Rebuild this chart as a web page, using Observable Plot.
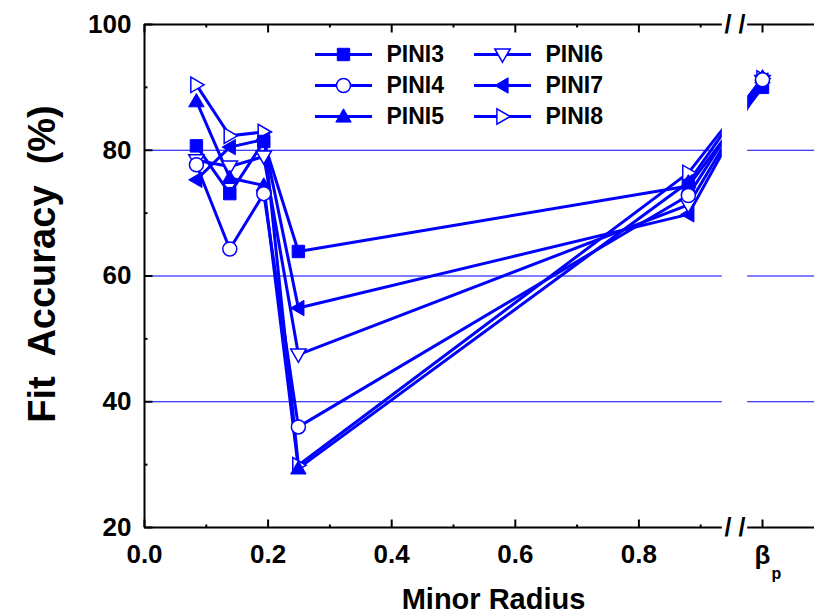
<!DOCTYPE html>
<html>
<head>
<meta charset="utf-8">
<script src="https://cdn.jsdelivr.net/npm/d3@7"></script>
<script src="https://cdn.jsdelivr.net/npm/@observablehq/plot@0.6"></script>
<style>
  html, body { margin: 0; padding: 0; background: #fff; }
  svg text { white-space: pre; }
</style>
</head>
<body>
<div id="chart"></div>
<script>
// ---------------- data ----------------
const seriesNames = ["PINI3", "PINI4", "PINI5", "PINI6", "PINI7", "PINI8"];
const minorRadius = [0.084, 0.138, 0.193, 0.249, 0.88];   // x positions (minor radius)
// last value of each series is the beta_p column
const pini3 = [80.7, 73.1, 81.4, 63.9, 74.3, 90.0];
const pini4 = [77.7, 64.3, 73.1, 36.0, 72.8, 91.2];
const pini5 = [87.8, 75.6, 74.4, 29.4, 74.9, 91.6];
const pini6 = [78.4, 77.4, 79.0, 47.5, 71.3, 91.0];
const pini7 = [75.3, 80.5, 81.7, 54.9, 69.8, 91.1];
const pini8 = [90.4, 82.3, 82.9, 29.9, 76.4, 91.4];
const xTickLabels = ["0.0", "0.2", "0.4", "0.6", "0.8"];
const xMajorTicks = [0, 0.2, 0.4, 0.6, 0.8];
const xMinorTicks = [0.1, 0.3, 0.5, 0.7, 0.9];
const yMajorTicks = [20, 40, 60, 80, 100];
const yMinorTicks = [30, 50, 70, 90];
const gridValues = [40, 60, 80];
const betaLabel = "β";
const betaSub = "p";

// ---------------- layout / scale config ----------------
const BETA_P_POS = 1.0;            // where the beta_p column sits on the x scale
const BREAK_L = 0.935, BREAK_R = 0.976;
const X_MAX = 670 / 618;
const BLUE = "#0000ff";
const FONT = "'Liberation Sans', Arial, Helvetica, sans-serif";

const seriesValues = [pini3, pini4, pini5, pini6, pini7, pini8];
const xPositions = [...minorRadius, BETA_P_POS];
const tidy = seriesNames.flatMap((s, i) =>
  seriesValues[i].map((v, j) => ({series: s, x: xPositions[j], y: v})));

// custom symbols
const poly = (pts) => ({
  draw(ctx, size) {
    const t = Math.sqrt(size / Math.PI);
    ctx.moveTo(pts[0][0] * t, pts[0][1] * t);
    for (let k = 1; k < pts.length; ++k) ctx.lineTo(pts[k][0] * t, pts[k][1] * t);
    ctx.closePath();
  }
});
const triUp = poly([[0, -1.1], [1.1, 0.8], [-1.1, 0.8]]);
const triDown = poly([[0, 1.1], [1.1, -0.8], [-1.1, -0.8]]);
const triLeft = poly([[-1.1, 0], [0.8, -1.1], [0.8, 1.1]]);
const triRight = poly([[1.1, 0], [-0.8, -1.1], [-0.8, 1.1]]);
const seg = (dx, dy) => ({draw(ctx) { ctx.moveTo(0, 0); ctx.lineTo(dx, dy); }});
const legendLine = {draw(ctx) { ctx.moveTo(-28.5, 0); ctx.lineTo(28.5, 0); }};

const symbols = ["square", "circle", triUp, triDown, triLeft, triRight];
const filled = [true, false, true, false, true, false];

// draw order of markers (later on top)
const markerOrder = [5, 4, 3, 2, 0, 1];

const seriesDots = markerOrder.map(i => Plot.dot(tidy.filter(d => d.series === seriesNames[i]), {
  x: "x", y: "y", r: 7, symbol: symbols[i],
  fill: filled[i] ? BLUE : "white", stroke: BLUE, strokeWidth: filled[i] ? 1 : 1.5
}));

const legendMarks = seriesNames.flatMap((name, i) => {
  const col = Math.floor(i / 3), row = i % 3;
  const lx = 199 + col * 159, ly = 30 + row * 31;
  return [
    Plot.dot([name], {frameAnchor: "top-left", dx: lx, dy: ly, symbol: legendLine, stroke: BLUE, strokeWidth: 3, fill: "none"}),
    Plot.dot([name], {frameAnchor: "top-left", dx: lx, dy: ly, r: 7, symbol: symbols[i],
      fill: filled[i] ? BLUE : "white", stroke: BLUE, strokeWidth: filled[i] ? 1 : 1.5}),
    Plot.text([name], {frameAnchor: "top-left", dx: lx + 43, dy: ly, text: d => d, textAnchor: "start",
      lineAnchor: "middle", fontSize: 23, fontWeight: "bold", fill: "black"})
  ];
});

const chart = Plot.plot({
  width: 814, height: 616,
  marginLeft: 144, marginRight: 0, marginTop: 24, marginBottom: 89,
  x: {domain: [0, X_MAX], axis: null},
  y: {domain: [20, 100], axis: null},
  style: {fontFamily: FONT, background: "white", overflow: "visible"},
  marks: [
    Plot.ruleY(gridValues, {stroke: BLUE, strokeWidth: 1}),
    Plot.line(tidy, {x: "x", y: "y", z: "series", stroke: BLUE, strokeWidth: 3, strokeLinejoin: "miter"}),
    ...seriesDots,
    // axis frame lines
    Plot.ruleY([20, 100], {stroke: "black", strokeWidth: 2}),
    Plot.ruleX([0], {stroke: "black", strokeWidth: 2}),
    // ticks (inward)
    Plot.dot([...xMajorTicks, BETA_P_POS], {x: d => d, frameAnchor: "bottom", symbol: seg(0, -8), stroke: "black", strokeWidth: 2, fill: "none"}),
    Plot.dot(xMinorTicks, {x: d => d, frameAnchor: "bottom", symbol: seg(0, -3), stroke: "black", strokeWidth: 2, fill: "none"}),
    Plot.dot([...xMajorTicks, BETA_P_POS], {x: d => d, frameAnchor: "top", symbol: seg(0, 8), stroke: "black", strokeWidth: 2, fill: "none"}),
    Plot.dot(xMinorTicks, {x: d => d, frameAnchor: "top", symbol: seg(0, 3), stroke: "black", strokeWidth: 2, fill: "none"}),
    Plot.dot(yMajorTicks, {y: d => d, frameAnchor: "left", symbol: seg(8, 0), stroke: "black", strokeWidth: 2, fill: "none"}),
    Plot.dot(yMinorTicks, {y: d => d, frameAnchor: "left", symbol: seg(3, 0), stroke: "black", strokeWidth: 2, fill: "none"}),
    // axis break
    Plot.rect([0], {x1: () => BREAK_L, x2: () => BREAK_R, y1: () => 20, y2: () => 100, insetTop: -5, insetBottom: -5, fill: "white"}),
    Plot.text([0], {x: () => (BREAK_L + BREAK_R) / 2, frameAnchor: "bottom", text: () => "/ /", fontSize: 25, fontWeight: "bold", fill: "black", lineAnchor: "middle"}),
    Plot.text([0], {x: () => (BREAK_L + BREAK_R) / 2, frameAnchor: "top", text: () => "/ /", fontSize: 25, fontWeight: "bold", fill: "black", lineAnchor: "middle"}),
    // tick labels
    Plot.text(xMajorTicks, {x: d => d, frameAnchor: "bottom", text: (d, i) => xTickLabels[i], dy: 17, lineAnchor: "top", fontSize: 26, fontWeight: "bold", fill: "black"}),
    Plot.text([BETA_P_POS], {x: d => d, frameAnchor: "bottom", text: () => betaLabel, dy: 18, lineAnchor: "top", fontSize: 26, fontWeight: "bold", fill: "black"}),
    Plot.text([BETA_P_POS], {x: d => d, frameAnchor: "bottom", text: () => betaSub, dx: 14, dy: 46, lineAnchor: "middle", fontSize: 16, fontWeight: "bold", fill: "black"}),
    Plot.text(yMajorTicks, {y: d => d, frameAnchor: "left", text: d => String(d), dx: -13, textAnchor: "end", lineAnchor: "middle", fontSize: 26, fontWeight: "bold", fill: "black"}),
    // axis titles
    Plot.text(["Minor Radius"], {frameAnchor: "bottom", text: d => d, dx: 14, dy: 72, lineAnchor: "middle", fontSize: 29, fontWeight: "bold", fill: "black"}),
    Plot.text(["Fit  Accuracy  (%)"], {frameAnchor: "left", text: d => d, dx: -102, dy: -12, rotate: -90, lineAnchor: "middle", textAnchor: "middle", fontSize: 38, fontWeight: "bold", fill: "black"}),
    // legend
    ...legendMarks
  ]
});
document.getElementById("chart").appendChild(chart);
</script>
</body>
</html>
